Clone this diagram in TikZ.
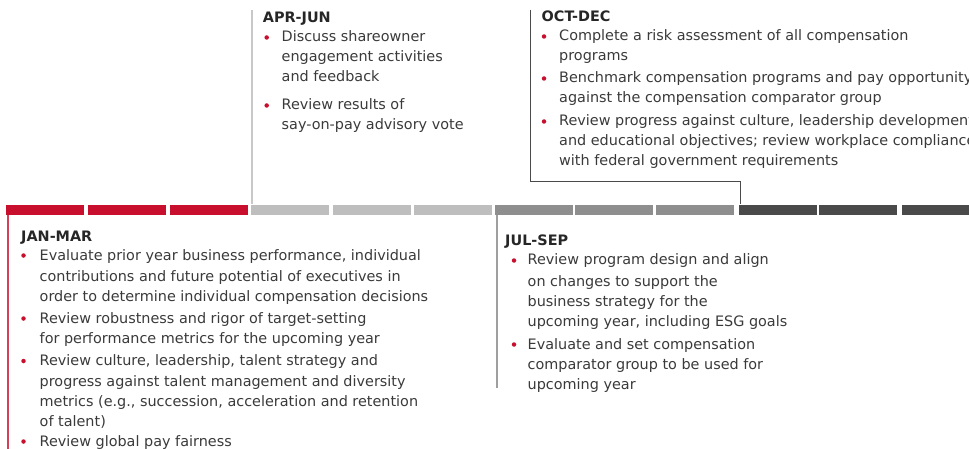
\documentclass[tikz,border=0pt]{standalone}
\usepackage{fontspec}
\setmainfont{DejaVu Sans}
\definecolor{qred}{HTML}{C8102E}
\definecolor{qlight}{HTML}{BEBEBE}
\definecolor{qmid}{HTML}{8E8E8E}
\definecolor{qdark}{HTML}{4A4A4A}
\definecolor{txtc}{HTML}{3A3A3A}
\definecolor{headc}{HTML}{262626}
\begin{document}
\begin{tikzpicture}[x=1pt,y=-1pt,
  tline/.style={anchor=base west, inner sep=0pt, font=\fontsize{14.4}{17}\selectfont, text=txtc},
  head/.style={anchor=base west, inner sep=0pt, font=\fontsize{14.4}{17}\selectfont\bfseries, text=headc},
  bdot/.style={circle, fill=qred, inner sep=0pt, minimum size=4.5pt},
  seg/.style={anchor=north west, inner sep=0pt, minimum width=78pt, minimum height=10.6pt},
  conn/.style={line width=1.2pt}]
\useasboundingbox (0,0) rectangle (969,449);
\clip (0,0) rectangle (969,449);

% timeline segments
\node[seg, fill=qred]   (s1)  at (6,204.4) {};
\node[seg, fill=qred]   (s2)  at (87.5,204.4) {};
\node[seg, fill=qred]   (s3)  at (169.5,204.4) {};
\node[seg, fill=qlight] (s4)  at (251,204.4) {};
\node[seg, fill=qlight] (s5)  at (333,204.4) {};
\node[seg, fill=qlight] (s6)  at (413.3,204.4) {};
\node[seg, fill=qmid]   (s7)  at (495,204.4) {};
\node[seg, fill=qmid]   (s8)  at (575,204.4) {};
\node[seg, fill=qmid]   (s9)  at (656,204.4) {};
\node[seg, fill=qdark]  (s10) at (738.3,204.4) {};
\node[seg, fill=qdark]  (s11) at (818.5,204.4) {};
\node[seg, fill=qdark]  (s12) at (901.7,204.4) {};

% connectors
\coordinate (jmEnd) at (8,449);
\draw[conn, qred!80] (s1.south -| jmEnd) -- (jmEnd);
\coordinate (ajTop) at (252,10);
\draw[conn, qlight!85] (ajTop) -- (ajTop |- s4.north);
\coordinate (jsEnd) at (497,388);
\draw[conn, qmid!85] (jsEnd |- s7.south) -- (jsEnd);
\coordinate (odTop) at (530.7,10);
\coordinate (odBend) at (740.7,181.7);
\draw[conn, qdark] (odTop) |- (odBend) -- (odBend |- s10.north);

% APR-JUN
\node[head] (ajH) at (262.7,23) {APR-JUN};
\node[bdot] (ajD1) at (266.7,37.5) {};
\node[tline] (aj1) at (281.5,42) {Discuss shareowner};
\node[tline] (aj2) at (281.5,62) {engagement activities};
\node[tline] (aj3) at (281.5,82) {and feedback};
\node[bdot] (ajD2) at (266.7,105.5) {};
\node[tline] (aj4) at (281.5,110) {Review results of};
\node[tline] (aj5) at (281.5,130) {say-on-pay advisory vote};

% OCT-DEC
\node[head] (odH) at (541.5,22) {OCT-DEC};
\node[bdot] (odD1) at (544,36.5) {};
\node[tline] (od1) at (559,41) {Complete a risk assessment of all compensation};
\node[tline] (od2) at (559,61) {programs};
\node[bdot] (odD2) at (544,78.5) {};
\node[tline] (od3) at (559,83) {Benchmark compensation programs and pay opportunity};
\node[tline] (od4) at (559,103) {against the compensation comparator group};
\node[bdot] (odD3) at (544,121.5) {};
\node[tline] (od5) at (559,126) {Review progress against culture, leadership development};
\node[tline] (od6) at (559,146) {and educational objectives; review workplace compliance};
\node[tline] (od7) at (559,166) {with federal government requirements};

% JAN-MAR
\node[head] (jmH) at (21,241) {JAN-MAR};
\node[bdot] (jmD1) at (23.5,255.5) {};
\node[tline] (jm1) at (39.5,260) {Evaluate prior year business performance, individual};
\node[tline] (jm2) at (39.5,281) {contributions and future potential of executives in};
\node[tline] (jm3) at (39.5,301.5) {order to determine individual compensation decisions};
\node[bdot] (jmD2) at (23.5,318.5) {};
\node[tline] (jm4) at (39.5,323) {Review robustness and rigor of target-setting};
\node[tline] (jm5) at (39.5,343) {for performance metrics for the upcoming year};
\node[bdot] (jmD3) at (23.5,361) {};
\node[tline] (jm6) at (39.5,365.5) {Review culture, leadership, talent strategy and};
\node[tline] (jm7) at (39.5,386) {progress against talent management and diversity};
\node[tline] (jm8) at (39.5,406) {metrics (e.g., succession, acceleration and retention};
\node[tline] (jm9) at (39.5,426) {of talent)};
\node[bdot] (jmD4) at (23.5,441.5) {};
\node[tline] (jm10) at (39.5,446) {Review global pay fairness};

% JUL-SEP
\node[head] (jsH) at (505,245) {JUL-SEP};
\node[bdot] (jsD1) at (514,260.5) {};
\node[tline] (js1) at (527.5,265) {Review program design and align};
\node[tline] (js2) at (527.5,286) {on changes to support the};
\node[tline] (js3) at (527.5,306) {business strategy for the};
\node[tline] (js4) at (527.5,326) {upcoming year, including ESG goals};
\node[bdot] (jsD2) at (514,344.5) {};
\node[tline] (js5) at (527.5,349) {Evaluate and set compensation};
\node[tline] (js6) at (527.5,369) {comparator group to be used for};
\node[tline] (js7) at (527.5,389) {upcoming year};
\end{tikzpicture}
\end{document}
